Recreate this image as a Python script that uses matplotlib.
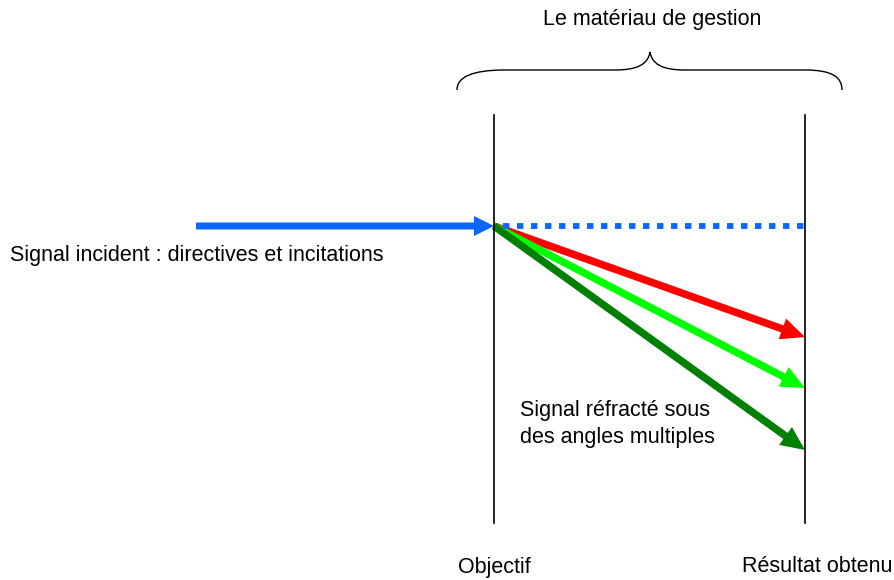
import matplotlib.pyplot as plt
from matplotlib.path import Path
from matplotlib.patches import PathPatch

plt.rcParams['font.family'] = ['Liberation Sans', 'DejaVu Sans']

# ---------------------------------------------------------
# diagram data (pixel space, y grows downward)
# ---------------------------------------------------------
wall_x = [494, 805]
wall_top, wall_bottom = 115, 523

incident_start = (196, 226)
incident_end = (494, 226)

refracted_end_y = [337, 388, 450]
refracted_colors = ["#ff0000", "#00ff00", "#008000"]

labels_bottom = ["Objectif", "Résultat obtenu"]
title_text = "Le matériau de gestion"
incident_text = "Signal incident : directives et incitations"
refracted_text = "Signal réfracté sous\ndes angles multiples"

blue = "#0a66ff"

fig = plt.figure(figsize=(8.95, 5.8), dpi=100)
ax = fig.add_axes([0, 0, 1, 1])
ax.set_xlim(0, 895)
ax.set_ylim(580, 0)
ax.axis("off")

# vertical walls
for x in wall_x:
    ax.plot([x, x], [wall_top, wall_bottom], color="black", lw=1.2)

# dotted continuation of incident signal
ax.plot([incident_end[0] + 9, wall_x[1]], [incident_end[1], incident_end[1]],
        color=blue, lw=4.2, linestyle=(0, (1.1, 1.3)), solid_capstyle="butt")

# incident arrow
ax.arrow(incident_start[0], incident_start[1],
         incident_end[0] - incident_start[0], 0,
         width=7, head_width=20, head_length=20,
         length_includes_head=True, color=blue, lw=0)

# refracted arrows (darkest drawn last so it sits on top)
for y_end, col in zip(refracted_end_y, refracted_colors):
    ax.arrow(incident_end[0], incident_end[1],
             wall_x[1] - incident_end[0], y_end - incident_end[1],
             width=7.5, head_width=22, head_length=24,
             length_includes_head=True, color=col, lw=0)

# brace over the two walls
verts = [
    (457, 90), (457, 77), (472, 70), (505, 70),
    (615, 70),
    (638, 70), (648, 64), (650, 52),
    (652, 64), (662, 70), (685, 70),
    (805, 70),
    (832, 70), (842, 77), (842, 90),
]
codes = [Path.MOVETO, Path.CURVE4, Path.CURVE4, Path.CURVE4,
         Path.LINETO,
         Path.CURVE4, Path.CURVE4, Path.CURVE4,
         Path.CURVE4, Path.CURVE4, Path.CURVE4,
         Path.LINETO,
         Path.CURVE4, Path.CURVE4, Path.CURVE4]
ax.add_patch(PathPatch(Path(verts, codes), facecolor="none",
                       edgecolor="black", lw=1))

# texts
fs = 15.5
ax.text(652, 20, title_text, fontsize=fs, ha="center", va="center")
ax.text(10, 256, incident_text, fontsize=fs, ha="left", va="center")
ax.text(520, 424, refracted_text, fontsize=fs, ha="left", va="center",
        linespacing=1.32)
ax.text(wall_x[0], 567, labels_bottom[0], fontsize=fs, ha="center", va="center")
ax.text(742, 567, labels_bottom[1], fontsize=fs, ha="left", va="center")

fig.savefig("out.png", dpi=100)
plt.close(fig)
